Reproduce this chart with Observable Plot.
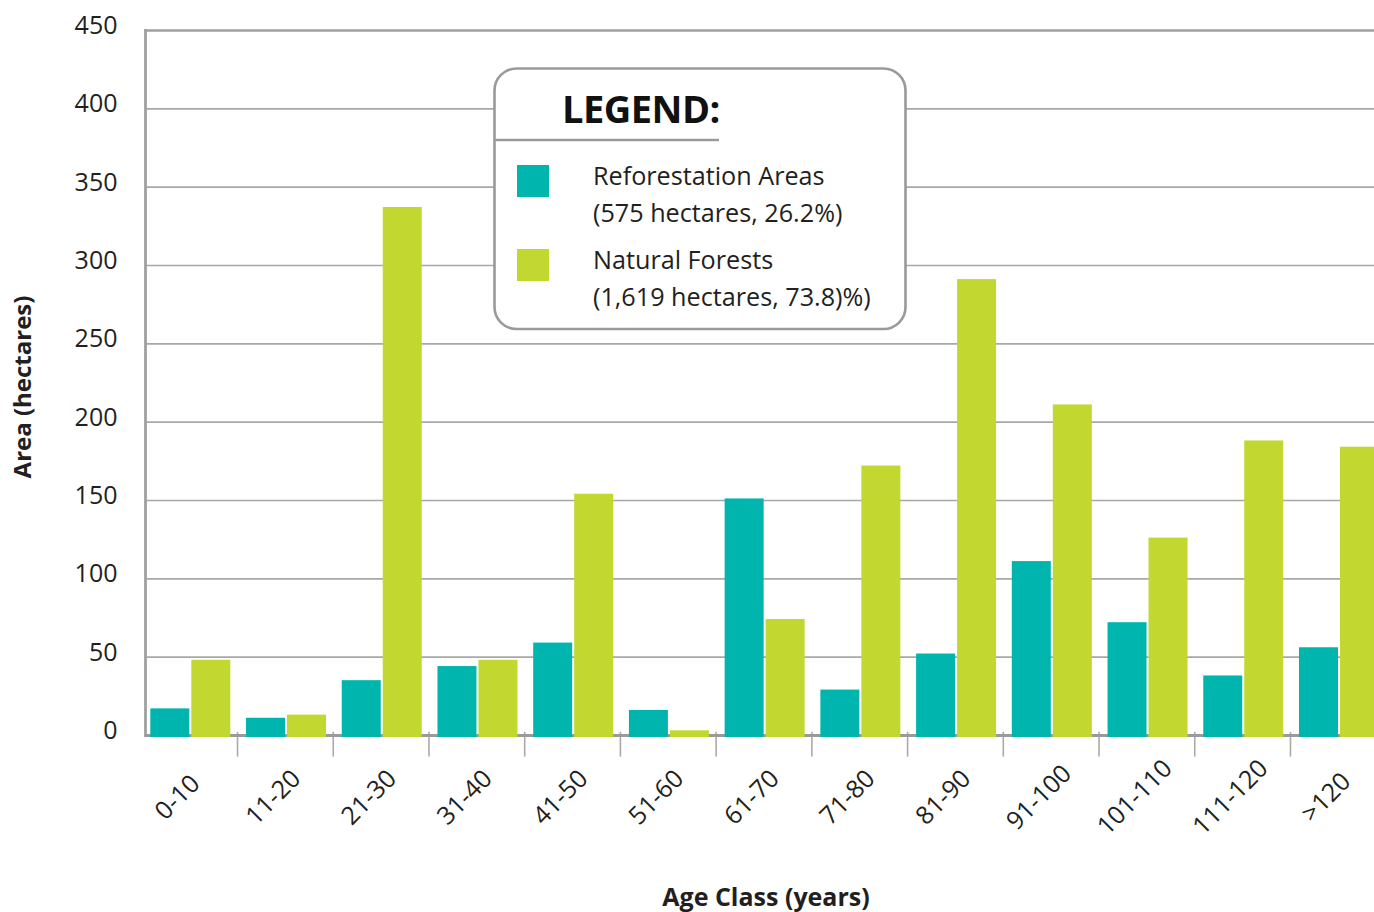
<!DOCTYPE html>
<html>
<head>
<meta charset="utf-8">
<script src="https://cdn.jsdelivr.net/npm/d3@7"></script>
<script src="https://cdn.jsdelivr.net/npm/@observablehq/plot@0.6"></script>
<style>
  html, body { margin: 0; padding: 0; background: white; }
  #wrap { position: relative; width: 1374px; height: 912px; overflow: hidden; }
  #legend { position: absolute; left: 0; top: 0; pointer-events: none; }
  text { font-family: "Open Sans", sans-serif; }
</style>
</head>
<body>
<div id="wrap"><div id="chart"></div></div>
<script>
const categories = ["0-10","11-20","21-30","31-40","41-50","51-60","61-70","71-80","81-90","91-100","101-110","111-120",">120"];
const reforestation = [17, 11, 35, 44, 59, 16, 151, 29, 52, 111, 72, 38, 56];
const natural = [48, 13, 337, 48, 154, 3, 74, 172, 291, 211, 126, 188, 184];
const yTicks = [0, 50, 100, 150, 200, 250, 300, 350, 400, 450];
const seriesNames = ["Reforestation Areas", "Natural Forests"];
const seriesNotes = ["(575 hectares, 26.2%)", "(1,619 hectares, 73.8)%)"];
const seriesColors = ["#00b5ad", "#c2d72f"];

const data = categories.map((c, i) => ({cat: c, reforestation: reforestation[i], natural: natural[i]}));

const x0 = 141.3, x1 = 1385.7;
const bw = (x1 - x0) / categories.length;

const chart = Plot.plot({
  width: 1374,
  height: 912,
  marginLeft: 145,
  marginRight: 0,
  marginTop: 30,
  marginBottom: 177,
  style: {fontFamily: "Open Sans, sans-serif", background: "white", color: "#231f20"},
  x: {domain: categories, range: [x0, x1], padding: 0, round: false, axis: null},
  y: {domain: [0, 450], axis: null},
  marks: [
    Plot.ruleY(yTicks.filter(t => t > 0 && t < 450), {stroke: "#a8a8a8", strokeWidth: 1.6}),
    Plot.ruleY([450], {stroke: "#a0a0a0", strokeWidth: 2.6}),
    Plot.frame({anchor: "left", stroke: "#a0a0a0", strokeWidth: 2.8}),
    Plot.ruleX(categories.slice(0, -1), {x: d => d, dx: bw / 2, y1: 2, y2: -13.8, stroke: "#aaaaaa", strokeWidth: 1.6}),
    Plot.ruleY([0], {stroke: "#9a9a9a", strokeWidth: 3}),
    Plot.barY(data, {x: "cat", y: "reforestation", fill: seriesColors[0], insetLeft: 9, insetRight: bw - 48, insetBottom: -2}),
    Plot.barY(data, {x: "cat", y: "natural", fill: seriesColors[1], insetLeft: 50, insetRight: bw - 89, insetBottom: -2}),
    Plot.axisY({ticks: yTicks, tickSize: 0, tickPadding: 28, fontSize: 25, dy: -4.5, label: null, tickFormat: d => String(d)}),
    Plot.text(categories, {x: d => d, frameAnchor: "bottom", rotate: -45, textAnchor: "middle", lineAnchor: "middle", dx: -12, dy: 62, fontSize: 25, fill: "#231f20"}),
    Plot.text(["Area (hectares)"], {frameAnchor: "left", rotate: -90, textAnchor: "middle", lineAnchor: "middle", dx: -122, dy: 4, fontSize: 24, fontWeight: "bold", fill: "#231f20"}),
    Plot.text(["Age Class (years)"], {frameAnchor: "bottom", textAnchor: "middle", lineAnchor: "middle", dx: 6, dy: 162, fontSize: 25, fontWeight: "bold", fill: "#231f20"})
  ]
});
document.getElementById("chart").appendChild(chart);

// Legend overlay
const lg = d3.select("#wrap").append("svg")
  .attr("id", "legend").attr("width", 1374).attr("height", 912);
lg.append("rect").attr("x", 494.5).attr("y", 68.5).attr("width", 411).attr("height", 260.5)
  .attr("rx", 22).attr("fill", "white").attr("stroke", "#9a9a9a").attr("stroke-width", 2.6);
lg.append("text").attr("x", 562).attr("y", 123).attr("font-size", 38).attr("font-weight", "bold")
  .attr("fill", "#111").attr("letter-spacing", -0.5).text("LEGEND:");
lg.append("line").attr("x1", 494).attr("x2", 719).attr("y1", 140).attr("y2", 140)
  .attr("stroke", "#9a9a9a").attr("stroke-width", 2.4);
const rowsY = [165, 249];
seriesNames.forEach((name, i) => {
  lg.append("rect").attr("x", 517).attr("y", rowsY[i]).attr("width", 32).attr("height", 32).attr("fill", seriesColors[i]);
  lg.append("text").attr("x", 593).attr("y", rowsY[i] + 19.5).attr("font-size", 25.2).attr("fill", "#231f20").text(name);
  lg.append("text").attr("x", 593).attr("y", rowsY[i] + 57).attr("font-size", 25.2).attr("fill", "#231f20").text(seriesNotes[i]);
});
</script>
</body>
</html>
